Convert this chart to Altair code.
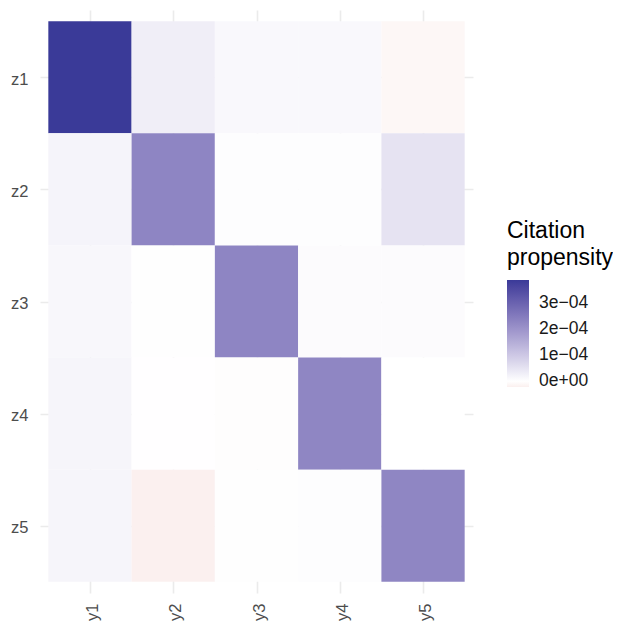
import altair as alt
import pandas as pd

x_cats = ["y1", "y2", "y3", "y4", "y5"]
y_cats = ["z1", "z2", "z3", "z4", "z5"]

# citation propensity, one list per row (z1..z5), columns y1..y5
row_z1 = [3.90e-4, 3.0e-5, 1.2e-5, 1.2e-5, -1.2e-5]
row_z2 = [2.0e-5, 2.30e-4, 4.0e-6, 4.0e-6, 5.0e-5]
row_z3 = [1.5e-5, 2.0e-6, 2.30e-4, 7.0e-6, 7.0e-6]
row_z4 = [1.8e-5, 1.0e-6, -3.0e-6, 2.28e-4, 0.0]
row_z5 = [1.8e-5, -2.2e-5, 2.0e-6, 4.0e-6, 2.28e-4]
rows = [row_z1, row_z2, row_z3, row_z4, row_z5]

legend_values = [0.0, 1e-4, 2e-4, 3e-4]

records = []
for i, (yc, row) in enumerate(zip(y_cats, rows), start=1):
    for j, (xc, v) in enumerate(zip(x_cats, row), start=1):
        records.append({"xc": xc, "yc": yc, "xi": j, "yi": i,
                        "x0": j - 0.5, "x1": j + 0.5,
                        "y0": i - 0.5, "y1": i + 0.5, "value": v})
df = pd.DataFrame(records)

vmin = float(df["value"].min())
vmax = float(df["value"].max())

font = "Liberation Sans"
xlab = "[" + ",".join("'%s'" % c for c in x_cats) + "][datum.value-1]"
ylab = "[" + ",".join("'%s'" % c for c in y_cats) + "][datum.value-1]"

chart = alt.Chart(df).mark_rect(strokeWidth=0).encode(
    x=alt.X("x0:Q",
            scale=alt.Scale(domain=[0.4, 5.6], nice=False, zero=False),
            axis=alt.Axis(values=[1, 2, 3, 4, 5], labelExpr=xlab, title=None,
                          domain=False, ticks=False, labelAngle=270,
                          labelPadding=10, labelOffset=2.5,
                          grid=True, gridColor="#EBEBEB", gridWidth=1.6,
                          labelFont=font, labelFontSize=16.5, labelColor="#4D4D4D")),
    x2="x1:Q",
    y=alt.Y("y0:Q",
            scale=alt.Scale(domain=[0.4, 5.6], nice=False, zero=False, reverse=True),
            axis=alt.Axis(values=[1, 2, 3, 4, 5], labelExpr=ylab, title=None,
                          domain=False, ticks=False,
                          labelPadding=12, labelOffset=2,
                          grid=True, gridColor="#EBEBEB", gridWidth=1.6,
                          labelFont=font, labelFontSize=16.5, labelColor="#4D4D4D")),
    y2="y1:Q",
    color=alt.Color("value:Q",
                    scale=alt.Scale(domain=[vmin, 0, vmax],
                                    range=["#FBF0EF", "#FFFFFF", "#3A3A98"],
                                    interpolate="lab"),
                    legend=alt.Legend(title=["Citation", "propensity"],
                                      values=legend_values,
                                      labelExpr="datum.value == 0 ? '0e+00' : replace(format(datum.value, '.0e'), 'e-', 'e\u22120')",
                                      orient="none", legendX=467, legendY=210,
                                      gradientLength=107, gradientThickness=22,
                                      gradientStrokeWidth=0,
                                      labelOffset=10, labelFont=font,
                                      labelFontSize=17.5, labelColor="#1A1A1A",
                                      titleFont=font, titleFontSize=23,
                                      titleFontWeight="normal", titleColor="#000000",
                                      titleLineHeight=27, titlePadding=10)),
).properties(
    width=433, height=583,
    autosize=alt.AutoSizeParams(type="none"),
    padding={"left": 32, "top": 2, "right": 140, "bottom": 33},
).configure_view(stroke=None)

chart.save("out.html", embed_options={"renderer": "svg", "actions": False})
